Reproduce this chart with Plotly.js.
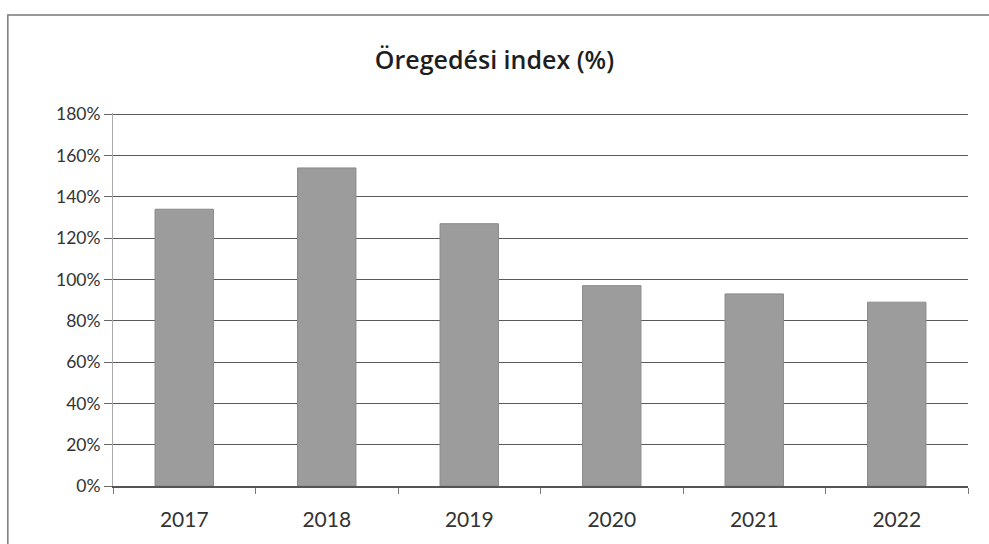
<!DOCTYPE html>
<html><head><meta charset="utf-8">
<script src="https://cdn.plot.ly/plotly-3.0.1.min.js"></script>
<style>html,body{margin:0;padding:0;background:#fff}#c{width:989px;height:544px}</style>
</head><body><div id="c"></div>
<script>
const years = ['2017','2018','2019','2020','2021','2022'];
const indexPct = [134, 154, 127, 97, 93, 89];
const yTicks = [0,20,40,60,80,100,120,140,160,180];
const yTickLabels = yTicks.map(v => v + '%');

const trace = {
  type: 'bar', x: years, y: indexPct,
  marker: {color: '#9c9c9c', line: {color: '#8a8a8a', width: 1}},
  hoverinfo: 'x+y'
};
const layout = {
  width: 989, height: 544,
  margin: {l: 113, r: 21, t: 113, b: 58},
  paper_bgcolor: '#fff', plot_bgcolor: '#fff',
  bargap: 0.59,
  showlegend: false,
  font: {family: 'Lato, "Open Sans", sans-serif', color: '#333', size: 16},
  title: {text: 'Öregedési index (%)', x: 0.5, xanchor: 'center', y: 0.89, yanchor: 'middle',
          font: {size: 25, color: '#1e1e1e', weight: 600, family: '"Open Sans", Lato, sans-serif'}},
  xaxis: {type: 'category', showgrid: false, showline: true, linecolor: '#555', linewidth: 1.5,
          ticks: 'outside', tickson: 'boundaries', ticklen: 6, tickcolor: '#777',
          tickfont: {size: 21, color: '#333'}, ticklabelstandoff: 14},
  yaxis: {range: [0, 180.6], tickvals: yTicks, ticktext: yTickLabels, showgrid: true,
          gridcolor: '#5a5a5a', gridwidth: 1, zeroline: false, showline: true,
          linecolor: '#aaa', linewidth: 1, ticks: 'outside', ticklen: 8, tickcolor: '#666',
          tickfont: {size: 17.5, color: '#333'}},
  shapes: [{type: 'rect', xref: 'paper', yref: 'paper', x0: -0.123, x1: 1.1, y0: -0.25, y1: 1.263,
            line: {color: '#777', width: 1.5}, fillcolor: 'rgba(0,0,0,0)', layer: 'below'}]
};
Plotly.newPlot('c', [trace], layout, {displayModeBar: false, staticPlot: true});
</script></body></html>
